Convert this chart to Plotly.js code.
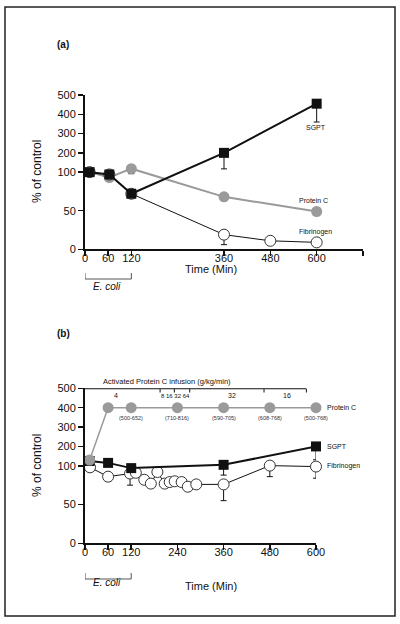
<!DOCTYPE html>
<html>
<head>
<meta charset="utf-8">
<script src="https://cdn.plot.ly/plotly-3.0.1.min.js"></script>
<style>html,body{margin:0;padding:0;background:#fff}#chart{width:400px;height:624px}</style>
</head>
<body>
<div id="chart"></div>
<script>
// ---- tick definitions ----
const yTickVals = [0, 50, 100, 200, 300, 400, 500];
const yTickText = ['0', '50', '100', '200', '300', '400', '500'];
const xTicksA = [0, 60, 120, 360, 480, 600, 720];
const xTickTextA = ['0', '60', '120', '360', '480', '600', ''];
const xTicksB = [0, 60, 120, 240, 360, 480, 600];
const xTickTextB = ['0', '60', '120', '240', '360', '480', '600'];

// ---- panel (a) ----
const aTimeSgpt = [12, 63, 120, 360, 600];
const aSgpt = [100, 97, 72, 200, 455];
const aSgptLow = [100, 97, 72, 117, 360];
const aTimePc = [12, 63, 120, 360, 600];
const aPc = [100, 93, 118, 68, 49];
const aPcLow = [100, 93, 98, 68, 49];
const aTimeFib = [12, 63, 120, 360, 480, 600];
const aFib = [100, 97, 72, 19, 11, 9];
const aFibLow = [100, 97, 72, 6, 11, 9];

// ---- panel (b) ----
const bTimePc = [12, 60, 120, 240, 360, 480, 600];
const bPc = [130, 400, 400, 400, 400, 400, 400];
const bPcRange = ['', '', '(500-652)', '(710-816)', '(590-705)', '(608-768)', '(500-768)'];
const bTimeSgpt = [12, 60, 120, 360, 600];
const bSgpt = [125, 115, 97, 105, 200];
const bSgptLow = [125, 105, 97, 88, 131];
const bTimeFib = [13, 60, 117, 132, 154, 171, 188, 207, 220, 233, 251, 267, 289, 360, 480, 600];
const bFib = [98, 86, 90, 91, 82, 77, 92, 77, 79, 80, 79, 73, 76, 76, 101, 99];
const bFibLow = [98, 80, 75, 91, 82, 77, 92, 77, 79, 80, 79, 73, 76, 55, 86, 84];

// ---- infusion regimen (b) ----
const infusionDoses = ['4', '8 16 32 64', '32', '16'];
const infusionMid = [80, 234, 381, 524];
const infusionBreaks = [195, 232, 272, 465, 575];
const infusionEnd = 575;

// broken y scale: 0-100 linear, 100-500 compressed 4x
function tr(v) { return v <= 100 ? v : 100 + (v - 100) / 4; }
const T = arr => arr.map(tr);
const errMinus = (v, lo) => v.map((d, i) => tr(d) - tr(lo[i]));
const zeros = n => new Array(n).fill(0);

const W = 400, H = 624;
const px = x => x / W;
const py = y => 1 - y / H;

const FONT = 'Liberation Sans, Arial, Helvetica, sans-serif';
const INK = '#111';
const GRAY = '#9a9a9a';

function err(v, lo) {
  return { type: 'data', symmetric: false, array: zeros(v.length), arrayminus: errMinus(v, lo),
           color: INK, thickness: 1, width: 3 };
}

const traces = [
  // panel a
  { x: aTimePc, y: T(aPc), xaxis: 'x', yaxis: 'y', mode: 'lines+markers', cliponaxis: false,
    line: { color: GRAY, width: 2 }, marker: { symbol: 'circle', size: 11, color: GRAY },
    error_y: err(aPc, aPcLow), name: 'Protein C' },
  { x: aTimeFib, y: T(aFib), xaxis: 'x', yaxis: 'y', mode: 'lines+markers', cliponaxis: false,
    line: { color: INK, width: 1 }, marker: { symbol: 'circle', size: 11, color: '#fff', line: { color: '#333', width: 1 } },
    error_y: err(aFib, aFibLow), name: 'Fibrinogen' },
  { x: aTimeSgpt, y: T(aSgpt), xaxis: 'x', yaxis: 'y', mode: 'lines+markers', cliponaxis: false,
    line: { color: INK, width: 2 }, marker: { symbol: 'square', size: 10, color: INK },
    error_y: err(aSgpt, aSgptLow), name: 'SGPT' },
  // panel b
  { x: bTimeFib, y: T(bFib), xaxis: 'x2', yaxis: 'y2', mode: 'lines+markers', cliponaxis: false,
    line: { color: INK, width: 1 }, marker: { symbol: 'circle', size: 11, color: '#fff', line: { color: '#333', width: 1 } },
    error_y: err(bFib, bFibLow), name: 'Fibrinogen' },
  { x: bTimeSgpt, y: T(bSgpt), xaxis: 'x2', yaxis: 'y2', mode: 'lines+markers', cliponaxis: false,
    line: { color: INK, width: 2 }, marker: { symbol: 'square', size: 10, color: INK },
    error_y: err(bSgpt, bSgptLow), name: 'SGPT' },
  { x: bTimePc, y: T(bPc), xaxis: 'x2', yaxis: 'y2', mode: 'lines+markers', cliponaxis: false,
    line: { color: GRAY, width: 1.5 }, marker: { symbol: 'circle', size: 11, color: GRAY },
    name: 'Protein C' }
];

const axisBase = {
  showline: true, linewidth: 2, linecolor: INK, ticks: 'outside', ticklen: 5, tickwidth: 1.5,
  tickcolor: INK, showgrid: false, zeroline: false, fixedrange: true,
  tickfont: { family: FONT, size: 11, color: INK }
};

const layout = {
  width: W, height: H, margin: { l: 0, r: 0, t: 0, b: 0 },
  paper_bgcolor: '#fff', plot_bgcolor: 'rgba(0,0,0,0)', showlegend: false,
  font: { family: FONT, color: INK },
  xaxis: Object.assign({}, axisBase, { domain: [px(85), px(363)], range: [0, 720], anchor: 'y',
    tickmode: 'array', tickvals: xTicksA, ticktext: xTickTextA, ticklabelstandoff: -8 }),
  yaxis: Object.assign({}, axisBase, { domain: [py(249.3), py(95)], range: [0, 200], anchor: 'x',
    tickmode: 'array', tickvals: T(yTickVals), ticktext: yTickText }),
  xaxis2: Object.assign({}, axisBase, { domain: [px(85), px(316)], range: [0, 600], anchor: 'y2',
    tickmode: 'array', tickvals: xTicksB, ticktext: xTickTextB, ticklabelstandoff: -8 }),
  yaxis2: Object.assign({}, axisBase, { domain: [py(543.3), py(388.3)], range: [0, 200], anchor: 'x2',
    tickmode: 'array', tickvals: T(yTickVals), ticktext: yTickText }),
  shapes: [],
  annotations: []
};

// outer frame
layout.shapes.push({ type: 'rect', xref: 'paper', yref: 'paper', x0: px(5), x1: px(395), y0: py(616), y1: py(7),
  line: { color: '#222', width: 1.5 } });

// E. coli brackets
[['x', 273, 279], ['x2', 573, 579]].forEach(([xr, t, b]) => {
  layout.shapes.push({ type: 'line', xref: xr, yref: 'paper', x0: 0, x1: 0, y0: py(t), y1: py(b), line: { color: '#555', width: 1 } });
  layout.shapes.push({ type: 'line', xref: xr, yref: 'paper', x0: 120, x1: 120, y0: py(t), y1: py(b), line: { color: '#555', width: 1 } });
  layout.shapes.push({ type: 'line', xref: xr, yref: 'paper', x0: 0, x1: 120, y0: py(b), y1: py(b), line: { color: '#555', width: 1 } });
});

// infusion bar (b)
layout.shapes.push({ type: 'line', xref: 'x2', yref: 'y2', x0: 0, x1: infusionEnd, y0: tr(500), y1: tr(500),
  line: { color: INK, width: 2 } });
infusionBreaks.forEach(b => {
  layout.shapes.push({ type: 'line', xref: 'x2', yref: 'paper', x0: b, x1: b, y0: py(389), y1: py(392.5),
    line: { color: INK, width: 1 } });
});

function ann(text, x, y, opts) {
  layout.annotations.push(Object.assign({ text: text, x: x, y: y, xref: 'paper', yref: 'paper',
    showarrow: false, xanchor: 'center', yanchor: 'middle', font: { family: FONT, size: 11, color: INK } }, opts || {}));
}

// panel letters
ann('<b>(a)</b>', px(63), py(45), { font: { family: FONT, size: 10, color: INK } });
ann('<b>(b)</b>', px(63), py(333), { font: { family: FONT, size: 10, color: INK } });

// axis titles
ann('% of control', px(37), py(172), { textangle: -90, font: { family: FONT, size: 12, color: INK } });
ann('% of control', px(37), py(466), { textangle: -90, font: { family: FONT, size: 12, color: INK } });
ann('Time (Min)', px(211), py(268.5), { font: { family: FONT, size: 11, color: INK } });
ann('Time (Min)', px(211), py(586), { font: { family: FONT, size: 11, color: INK } });
ann('<i>E. coli</i>', px(107), py(287), { font: { family: FONT, size: 10, color: INK } });
ann('<i>E. coli</i>', px(107), py(582.5), { font: { family: FONT, size: 10, color: INK } });

// series labels (a)
const small = { family: FONT, size: 7, color: INK };
ann('SGPT', px(316), py(128), { font: small });
ann('Protein C', px(313), py(201), { font: small });
ann('Fibrinogen', px(315), py(232), { font: small });
// series labels (b)
ann('Protein C', px(325), py(407), { xanchor: 'left', font: small });
ann('SGPT', px(325), py(446), { xanchor: 'left', font: small });
ann('Fibrinogen', px(325), py(466), { xanchor: 'left', font: small });

// infusion annotation (b)
ann('Activated Protein C infusion (g/kg/min)', px(167), py(381), { font: { family: FONT, size: 7.5, color: INK } });
infusionDoses.forEach((d, i) => {
  layout.annotations.push({ text: d, x: infusionMid[i], y: py(395.5), xref: 'x2', yref: 'paper', showarrow: false,
    xanchor: 'center', yanchor: 'middle', font: { family: FONT, size: i === 1 ? 6 : 7, color: INK } });
});
// protein C ranges (b)
bPcRange.forEach((r, i) => {
  if (!r) return;
  layout.annotations.push({ text: r, x: bTimePc[i], y: py(418.5), xref: 'x2', yref: 'paper', showarrow: false,
    xanchor: 'center', yanchor: 'middle', font: { family: FONT, size: 5.5, color: '#333' } });
});

Plotly.newPlot('chart', traces, layout, { staticPlot: true, displayModeBar: false });
</script>
</body>
</html>
